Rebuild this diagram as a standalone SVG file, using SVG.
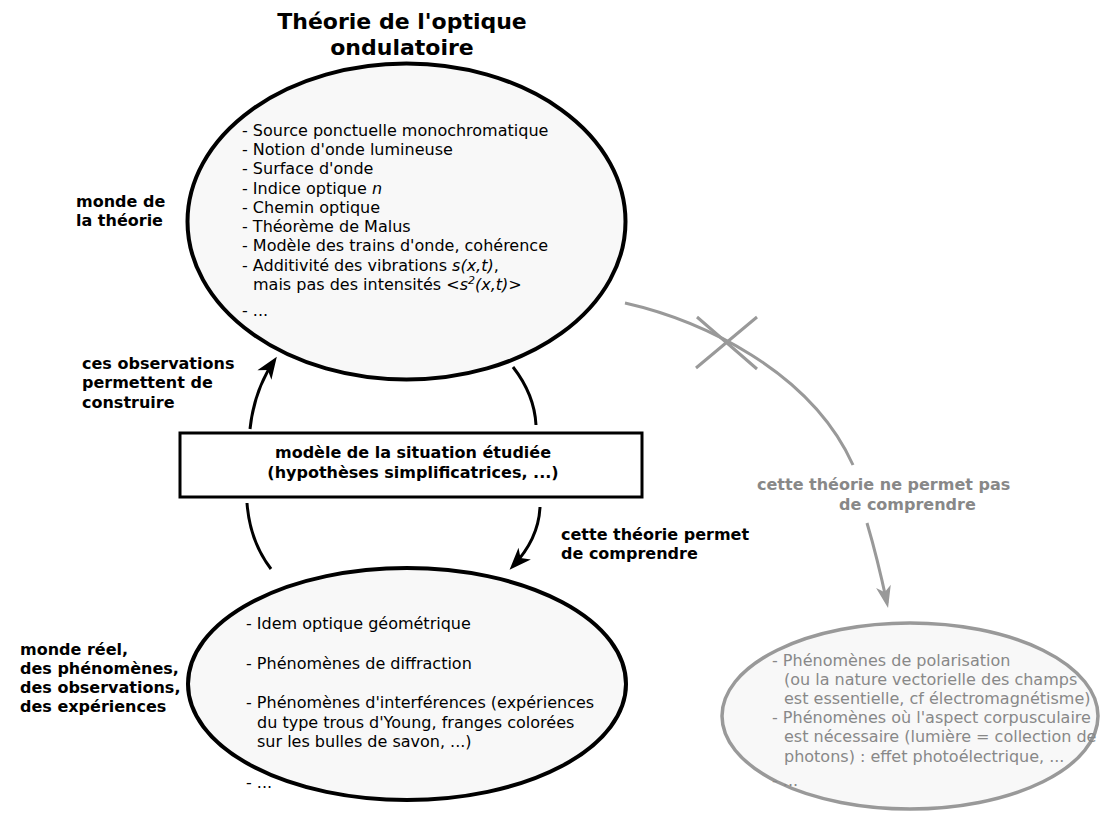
<svg xmlns="http://www.w3.org/2000/svg" width="1101" height="814" viewBox="0 0 1101 814">
<style>
text{font-family:"DejaVu Sans","Liberation Sans",sans-serif;font-size:16px;fill:#000}
.b{font-weight:bold}
.t{font-weight:bold;font-size:22px}
.g{fill:#888}
.i{font-style:italic}
.ell{fill:#f8f8f8;stroke:#000;stroke-width:4}
.gell{fill:#f8f8f8;stroke:#999;stroke-width:3.5}
.c{fill:none;stroke:#000;stroke-width:3}
.gc{fill:none;stroke:#999;stroke-width:3}
</style>
<defs>
<marker id="ah" markerUnits="userSpaceOnUse" markerWidth="40" markerHeight="40" refX="0" refY="0" orient="auto" overflow="visible">
<path d="M5,0 L-17,-8.5 L-11,0 L-17,8.5 Z" fill="#000"/>
</marker>
<marker id="gah" markerUnits="userSpaceOnUse" markerWidth="40" markerHeight="40" refX="0" refY="0" orient="auto" overflow="visible">
<path d="M5,0 L-17,-7.5 L-11,0 L-17,7.5 Z" fill="#999"/>
</marker>
</defs>

<g id="title">
<text class="t" x="402" y="29" text-anchor="middle">Théorie de l'optique</text>
<text class="t" x="402" y="55" text-anchor="middle">ondulatoire</text>
</g>

<g id="theory">
<ellipse class="ell" cx="406.5" cy="221.5" rx="219" ry="158"/>
<text x="242" y="136">- Source ponctuelle monochromatique</text>
<text x="242" y="155">- Notion d'onde lumineuse</text>
<text x="242" y="174">- Surface d'onde</text>
<text x="242" y="194">- Indice optique <tspan class="i">n</tspan></text>
<text x="242" y="213">- Chemin optique</text>
<text x="242" y="232">- Théorème de Malus</text>
<text x="242" y="251">- Modèle des trains d'onde, cohérence</text>
<text x="242" y="271">- Additivité des vibrations <tspan class="i">s(x,t)</tspan>,</text>
<text x="253" y="290">mais pas des intensités <tspan class="i">&lt;s</tspan><tspan class="i" font-size="11" dy="-6">2</tspan><tspan class="i" dy="6">(x,t)&gt;</tspan></text>
<text x="242" y="316">- ...</text>
</g>

<g id="label-theorie">
<text class="b" x="76" y="207">monde de</text>
<text class="b" x="76" y="226">la théorie</text>
</g>

<g id="model">
<rect x="180" y="433" width="462" height="64" fill="#fff" stroke="#000" stroke-width="3"/>
<text class="b" x="413" y="458" text-anchor="middle">modèle de la situation étudiée</text>
<text class="b" x="413" y="478" text-anchor="middle">(hypothèses simplificatrices, ...)</text>
</g>

<g id="reel">
<ellipse class="ell" cx="407" cy="684" rx="219" ry="116"/>
<text x="246" y="629">- Idem optique géométrique</text>
<text x="246" y="669">- Phénomènes de diffraction</text>
<text x="246" y="708">- Phénomènes d'interférences (expériences</text>
<text x="257" y="728">du type trous d'Young, franges colorées</text>
<text x="257" y="747">sur les bulles de savon, ...)</text>
<text x="246" y="788">- ...</text>
</g>

<g id="label-reel">
<text class="b" x="20" y="655">monde réel,</text>
<text class="b" x="20" y="674">des phénomènes,</text>
<text class="b" x="20" y="693">des observations,</text>
<text class="b" x="20" y="712">des expériences</text>
</g>

<g id="hors">
<ellipse class="gell" cx="910" cy="716" rx="188" ry="93"/>
<text class="g" x="772" y="666">- Phénomènes de polarisation</text>
<text class="g" x="784" y="685">(ou la nature vectorielle des champs</text>
<text class="g" x="784" y="704">est essentielle, cf électromagnétisme)</text>
<text class="g" x="772" y="723">- Phénomènes où l'aspect corpusculaire</text>
<text class="g" x="784" y="742">est nécessaire (lumière = collection de</text>
<text class="g" x="784" y="762">photons) : effet photoélectrique, ...</text>
<text class="g" x="772" y="786">- ...</text>
</g>

<g id="connectors">
<path class="c" d="M250,429 C253,402 261,380 274,361" marker-end="url(#ah)"/>
<path class="c" d="M513,367 C527,385 535,405 536,425"/>
<path class="c" d="M247,503 C249,530 258,552 271,569"/>
<path class="c" d="M540,507 C539,530 530,548 513,566" marker-end="url(#ah)"/>
<path class="gc" d="M625,303 C700,320 810,370 853,465"/>
<path class="gc" d="M696,368 L757,317 M697,317 L757,369" stroke-width="2.5"/>
<path class="gc" d="M867,523 C875,550 881,575 887,603" marker-end="url(#gah)"/>
</g>

<g id="connector-labels">
<text class="b" x="82" y="369">ces observations</text>
<text class="b" x="82" y="388">permettent de</text>
<text class="b" x="82" y="408">construire</text>
<text class="b" x="561" y="540">cette théorie permet</text>
<text class="b" x="561" y="559">de comprendre</text>
<text class="b g" x="757" y="490">cette théorie ne permet pas</text>
<text class="b g" x="839" y="510">de comprendre</text>
</g>
</svg>
